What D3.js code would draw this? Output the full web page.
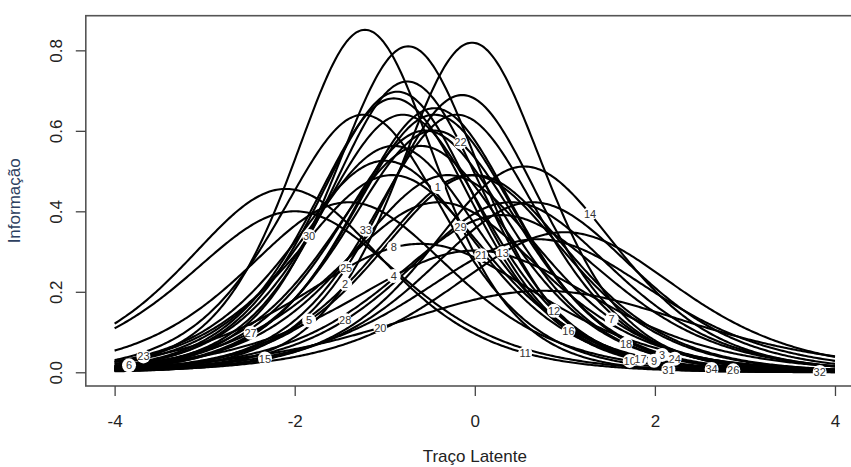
<!DOCTYPE html>
<html>
<head>
<meta charset="utf-8">
<script src="https://cdn.jsdelivr.net/npm/d3@7"></script>
<style>
  body { margin: 0; background: #fff; }
  svg { display: block; font-family: "Liberation Sans", Arial, sans-serif; }
</style>
</head>
<body>
<svg width="851" height="467"></svg>
<script>
// item parameters (2PL: peak a^2/4 at theta = b)
var itemIds    = [1, 2, 3, 4, 5, 6, 7, 8, 9, 10, 11, 12, 13, 14, 15, 16, 17,
                  18, 19, 20, 21, 22, 23, 24, 25, 26, 27, 28, 29, 30, 31, 32, 33, 34];
var discrim    = [1.40, 1.81, 1.60, 1.10, 1.40, 1.50, 1.40, 1.13, 1.50, 1.30, 1.35, 1.60,
                  1.18, 1.43, 1.30, 1.65, 1.45, 1.55, 1.60, 0.90, 1.15, 1.55, 1.40, 1.62,
                  1.66, 1.80, 1.30, 1.30, 1.25, 1.70, 1.845, 1.265, 1.60, 1.67];
var difficulty = [-0.05, -0.03, -0.45, 0.00, 0.00, -0.60, -0.30, -0.60, -0.90, -1.40, -2.10, -0.80,
                  1.00, 0.55, 0.64, -0.90, -1.00, -0.55, -1.24, 0.76, 0.70, -0.45, -0.92, -0.45,
                  -0.14, -0.74, -0.40, 0.40, 0.30, -0.75, -1.22, -2.00, -0.20, -0.86];
// where each item number sits on its curve
var labelTheta = [-0.41, -1.44, 2.08, -0.90, -1.84, -3.84, 1.52, -0.90, 1.99, 1.72, 0.56, 0.88,
                  0.31, 1.28, -2.33, 1.04, 1.84, 1.68, 2.87, -1.05, 0.07, -0.16, -3.68, 2.22,
                  -1.43, 2.87, -2.49, -1.44, -0.16, -1.84, 2.15, 3.83, -1.21, 2.63];

var xTicks = [-4, -2, 0, 2, 4];
var yTicks = [0.0, 0.2, 0.4, 0.6, 0.8];

var svg = d3.select("svg");

var margin = { left: 85.8, right: 863.8, top: 15.7, bottom: 386 };

var xscale = d3.scaleLinear().domain([-4.32, 4.32]).range([margin.left, margin.right]);
var yscale = d3.scaleLinear().domain([-0.03408, 0.88608]).range([margin.bottom, margin.top]);

function info(theta, a, b) {
  var p = 1 / (1 + Math.exp(-a * (theta - b)));
  return a * a * p * (1 - p);
}

var thetas = d3.range(-4, 4.0001, 0.02);

var line = d3.line()
             .x(function(d) { return xscale(d[0]); })
             .y(function(d) { return yscale(d[1]); });

// curves
svg.append("g")
   .selectAll("path")
   .data(itemIds)
   .enter()
   .append("path")
   .attr("d", function(d, i) {
     return line(thetas.map(function(t) { return [t, info(t, discrim[i], difficulty[i])]; }));
   })
   .attr("fill", "none")
   .attr("stroke", "#000")
   .attr("stroke-width", 2.1);

// item labels
var lab = svg.append("g")
             .selectAll("g")
             .data(itemIds)
             .enter()
             .append("g")
             .attr("transform", function(d, i) {
               var t = labelTheta[i];
               return "translate(" + xscale(t) + "," + yscale(info(t, discrim[i], difficulty[i])) + ")";
             });

lab.append("circle")
   .attr("r", 7)
   .attr("fill", "#fff");

lab.append("text")
   .attr("text-anchor", "middle")
   .attr("dy", "0.36em")
   .attr("font-size", 11)
   .attr("fill", "#333")
   .text(function(d) { return d; });

// box
svg.append("rect")
   .attr("x", margin.left)
   .attr("y", margin.top)
   .attr("width", margin.right - margin.left)
   .attr("height", margin.bottom - margin.top)
   .attr("fill", "none")
   .attr("stroke", "#555")
   .attr("stroke-width", 1.6);

// axes
var xaxis = d3.axisBottom(xscale)
              .tickValues(xTicks)
              .tickFormat(function(d) { return String(d); })
              .tickSize(10)
              .tickSizeOuter(0)
              .tickPadding(19);

var xg = svg.append("g")
            .attr("transform", "translate(0," + margin.bottom + ")")
            .call(xaxis);
xg.select(".domain").remove();
xg.selectAll("line").attr("stroke", "#444").attr("stroke-width", 1.3);
xg.selectAll("text").attr("font-size", 17).attr("fill", "#222")
  .attr("font-family", "Liberation Sans, Arial, sans-serif");

var yaxis = d3.axisLeft(yscale)
              .tickValues(yTicks)
              .tickFormat(function(d) { return d.toFixed(1); })
              .tickSize(10)
              .tickSizeOuter(0);

var yg = svg.append("g")
            .attr("transform", "translate(" + margin.left + ",0)")
            .call(yaxis);
yg.select(".domain").remove();
yg.selectAll("line").attr("stroke", "#444").attr("stroke-width", 1.3);
yg.selectAll("text")
  .attr("font-size", 17)
  .attr("fill", "#222")
  .attr("font-family", "Liberation Sans, Arial, sans-serif")
  .attr("text-anchor", "middle")
  .attr("x", 0)
  .attr("y", -24)
  .attr("dy", 0)
  .attr("transform", "rotate(-90)");

// titles
svg.append("text")
   .attr("text-anchor", "middle")
   .attr("x", (margin.left + margin.right) / 2)
   .attr("y", 462)
   .attr("font-size", 17)
   .attr("fill", "#222")
   .text("Traço Latente");

svg.append("text")
   .attr("text-anchor", "middle")
   .attr("transform", "translate(20," + ((margin.top + margin.bottom) / 2) + ") rotate(-90)")
   .attr("font-size", 17)
   .attr("fill", "#2d4060")
   .text("Informação");
</script>
</body>
</html>
